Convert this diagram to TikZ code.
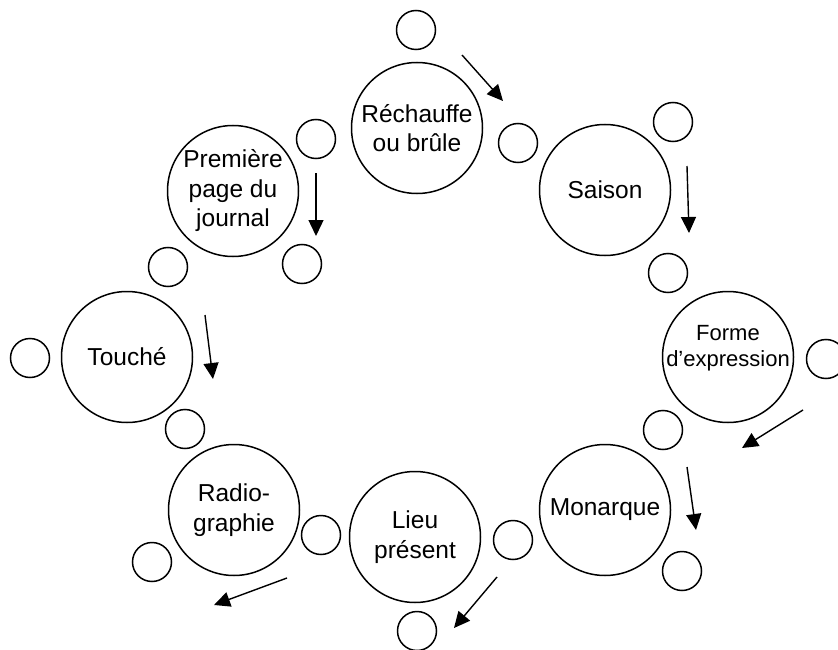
\documentclass[tikz,border=0pt]{standalone}
\usepackage{fontspec}
\setmainfont{Liberation Sans}
\usetikzlibrary{arrows.meta}
\begin{document}
\begin{tikzpicture}[x=1pt,y=-1pt,
  big/.style={circle,draw,line width=1.5pt,minimum size=131pt,inner sep=0pt,align=center,
    font=\fontsize{24.5}{29.5}\selectfont},
  small/.style={circle,draw,line width=1.5pt,minimum size=39pt,inner sep=0pt},
  arr/.style={line width=1.4pt,-{Triangle[length=16pt,width=15pt]}}]
\useasboundingbox (0,0) rectangle (838,650);
% big circles
\node[big] (rech) at (417,128) {Réchauffe\\ou brûle};
\node[big] (saison) at (605,190) {Saison};
\node[big] (forme) at (728,357) {};
\node[font=\fontsize{22}{26}\selectfont,align=center,inner sep=0pt] (formetext) at (728,348) {Forme\\d’expression};
\node[big] (monarque) at (605,510) {Monarque};
\node[big] (lieu) at (415,537) {Lieu\\présent};
\node[big] (radio) at (234,510) {Radio-\\graphie};
\node[big] (touche) at (127,357) {Touché};
\node[big] (premiere) at (233,191) {Première\\page du\\journal};
% small circles
\node[small] (s1) at (416,30) {};
\node[small] (s2) at (518,143) {};
\node[small] (s3) at (673,122) {};
\node[small] (s4) at (668,273) {};
\node[small] (s5) at (826,359) {};
\node[small] (s6) at (663,430) {};
\node[small] (s7) at (682,571) {};
\node[small] (s8) at (513,540) {};
\node[small] (s9) at (417,631) {};
\node[small] (s10) at (321,535) {};
\node[small] (s11) at (152,562) {};
\node[small] (s12) at (185,429) {};
\node[small] (s13) at (30,358) {};
\node[small] (s14) at (168,267) {};
\node[small] (s15) at (302,264) {};
\node[small] (s16) at (316,139) {};
% arrow end points
\coordinate (a1s) at (462,55);  \coordinate (a1e) at (503,101);
\coordinate (a2s) at (687,166); \coordinate (a2e) at (689,233);
\coordinate (a3s) at (803,410); \coordinate (a3e) at (742,448);
\coordinate (a4s) at (687,467); \coordinate (a4e) at (696,530);
\coordinate (a5s) at (497,577); \coordinate (a5e) at (454,628);
\coordinate (a6s) at (287,578); \coordinate (a6e) at (214,605);
\coordinate (a7s) at (205,315); \coordinate (a7e) at (213,379);
\coordinate (a8s) at (316,173); \coordinate (a8e) at (316,236);
\foreach \i in {1,...,8} \draw[arr] (a\i s) -- (a\i e);
\end{tikzpicture}
\end{document}
